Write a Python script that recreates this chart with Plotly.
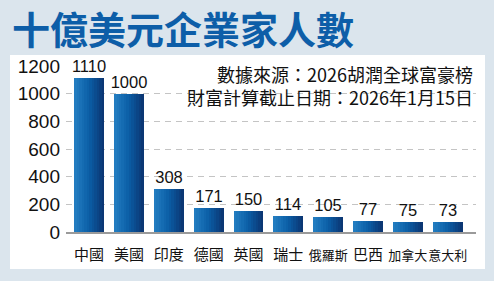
import plotly.graph_objects as go

categories = ["中國", "美國", "印度", "德國", "英國", "瑞士", "俄羅斯", "巴西", "加拿大", "意大利"]
values = [1110, 1000, 308, 171, 150, 114, 105, 77, 75, 73]
ytick_vals = [0, 200, 400, 600, 800, 1000, 1200]
title_text = "十億美元企業家人數"
note_lines = ["數據來源：2026胡潤全球富豪榜", "財富計算截止日期：2026年1月15日"]

W, H = 494, 281
L, R, T, B = 66, 476, 66, 232  # plot area in pixels


def px_x(p):
    return (p - L) / (R - L)


def px_y(p):
    return (B - p) / (B - T)


def lerp(c1, c2, t):
    return "#%02x%02x%02x" % tuple(round(a + (b - a) * t) for a, b in zip(c1, c2))


left_c = (0x22, 0x7c, 0xc0)
mid_c = (0x0b, 0x5e, 0xa6)
right_c = (0x0b, 0x37, 0x74)

fig = go.Figure()
N = 12
bw = 0.75
xs = list(range(len(categories)))
for i in range(N):
    t = i / (N - 1)
    col = lerp(left_c, mid_c, t * 2) if t < 0.5 else lerp(mid_c, right_c, (t - 0.5) * 2)
    fig.add_trace(go.Bar(
        x=xs, y=values, width=bw / N, offset=-bw / 2 + i * bw / N,
        marker=dict(color=col, line=dict(width=0)), hoverinfo="skip", showlegend=False,
    ))

fig.add_trace(go.Bar(
    x=xs, y=values, width=bw,
    marker=dict(color="rgba(0,0,0,0)", line=dict(width=0)),
    text=[str(v) for v in values], textposition="outside", cliponaxis=False,
    constraintext="none",
    textfont=dict(family="Liberation Sans, Arial", size=16.5, color="#111"),
    showlegend=False,
))

ticktext = []
for c in categories:
    if len(c) >= 3:
        ticktext.append('<span style="font-size:13px">%s</span>' % c)
    else:
        ticktext.append(c)

shapes = [dict(type="rect", xref="paper", yref="paper",
               x0=px_x(10), x1=px_x(485), y0=px_y(269), y1=px_y(55),
               fillcolor="white", line=dict(width=0), layer="below")]

annotations = [dict(
    text="<br>".join(note_lines), xref="paper", yref="paper", x=px_x(475), y=px_y(85.5),
    xanchor="right", yanchor="middle", align="right", showarrow=False,
    font=dict(family="Noto Sans CJK TC", size=18, color="#111"),
)]

fig.update_layout(
    width=W, height=H,
    margin=dict(l=L, r=W - R, t=T, b=H - B, pad=0),
    paper_bgcolor="#dbe5ed", plot_bgcolor="rgba(0,0,0,0)",
    barmode="overlay", bargap=0,
    title=dict(text=title_text, xref="container", yref="container",
               x=12 / W, y=1 - 31 / H, xanchor="left", yanchor="middle",
               font=dict(family="Noto Sans CJK TC", size=38, color="#0d5ea8", weight="bold")),
    shapes=shapes, annotations=annotations,
    xaxis=dict(range=[-0.58, 9.71], tickvals=xs, ticktext=ticktext, tickangle=0,
               showgrid=False, showline=True, linecolor="#9a9a9a", linewidth=1.5,
               ticks="", ticklabelstandoff=8,
               tickfont=dict(family="Noto Sans CJK TC", size=15, color="#111"),
               fixedrange=True),
    yaxis=dict(range=[0, 1200], tickvals=ytick_vals, showgrid=True,
               gridcolor="#c4c4c4", griddash="6px,5px", gridwidth=1.2,
               zeroline=False, showline=False, ticks="", ticklabelstandoff=5,
               tickfont=dict(family="Liberation Sans, Arial", size=19, color="#111"),
               fixedrange=True),
)

fig.write_html("out.html")
